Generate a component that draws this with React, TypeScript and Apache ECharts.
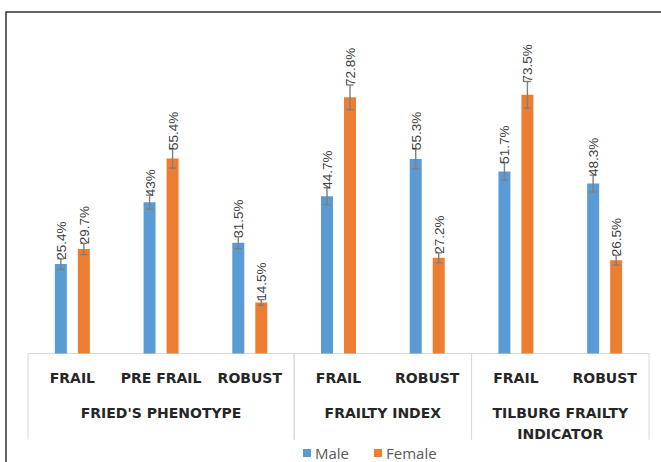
import React, { useEffect, useRef } from "react";
import * as echarts from "echarts";

const categories = ["FRAIL", "PRE FRAIL", "ROBUST", "FRAIL", "ROBUST", "FRAIL", "ROBUST"];
const maleValues = [25.4, 43, 31.5, 44.7, 55.3, 51.7, 48.3];
const femaleValues = [29.7, 55.4, 14.5, 72.8, 27.2, 73.5, 26.5];
const maleErrors = [1.5, 2.0, 1.7, 2.4, 2.8, 2.5, 2.4];
const femaleErrors = [1.6, 2.7, 0.8, 3.5, 1.4, 3.8, 1.4];
const groupNames = ["FRIED'S PHENOTYPE", "FRAILTY INDEX", "TILBURG FRAILTY\nINDICATOR"];
const groupSpans = [3, 2, 2];

const MALE_COLOR = "#5B9BD5";
const FEMALE_COLOR = "#ED7D31";
const BAR_WIDTH = 12;
const BAR_GAP = 11;

export default function App() {
  const ref = useRef<HTMLDivElement>(null);
  useEffect(() => {
    if (!ref.current) return;
    const chart = echarts.init(ref.current, null, { renderer: "svg" });

    const groupData: any[] = [];
    let start = 0;
    groupNames.forEach((name, i) => {
      groupData.push({ value: [start, start + groupSpans[i] - 1, 0], name });
      start += groupSpans[i];
    });

    const errSeries = (name: string, values: number[], errs: number[], sign: number) => ({
      type: "custom",
      name: name + "_err",
      clip: false,
      silent: true,
      z: 5,
      data: values.map((v, i) => [i, v, errs[i]]),
      encode: { x: 0, y: 1 },
      renderItem: (params: any, api: any) => {
        const idx = api.value(0);
        const v = api.value(1);
        const e = api.value(2);
        const top = api.coord([idx, v + e]);
        const bot = api.coord([idx, v - e]);
        const x = top[0] + (sign * (BAR_WIDTH + BAR_GAP)) / 2;
        const stroke = { stroke: "#7f7f7f", lineWidth: 1.4 };
        return {
          type: "group",
          children: [
            { type: "line", shape: { x1: x, y1: top[1], x2: x, y2: bot[1] }, style: stroke },
            { type: "line", shape: { x1: x - 3.5, y1: top[1], x2: x + 3.5, y2: top[1] }, style: stroke },
            { type: "line", shape: { x1: x - 3.5, y1: bot[1], x2: x + 3.5, y2: bot[1] }, style: stroke },
            {
              type: "text",
              x: x + 0.5,
              y: top[1] + 1,
              rotation: Math.PI / 2,
              style: {
                text: String(v) + "%",
                font: '13.5px "Liberation Sans"',
                fill: "#404040",
                align: "left",
                verticalAlign: "middle",
              },
            },
          ],
        };
      },
    });

    chart.setOption({
      animation: false,
      grid: { left: 28, right: 12, top: 72, bottom: 108.5 },
      graphic: [
        {
          type: "rect",
          shape: { x: 6, y: 12, width: 700, height: 500 },
          style: { fill: "none", stroke: "#333", lineWidth: 1.5 },
          silent: true,
        },
      ],
      legend: {
        data: ["Male", "Female"],
        left: 303,
        top: 445,
        padding: 0,
        icon: "rect",
        itemWidth: 8,
        itemHeight: 8,
        itemGap: 25,
        textStyle: {
          fontFamily: "Open Sans",
          fontSize: 15,
          lineHeight: 16,
          color: "#595959",
          padding: [0, 0, 0, -1],
        },
      },
      xAxis: {
        type: "category",
        data: categories,
        axisLine: { show: true, lineStyle: { color: "#d9d9d9", width: 1 } },
        axisTick: { show: false },
        axisLabel: {
          interval: 0,
          margin: 17,
          fontFamily: "DejaVu Sans",
          fontWeight: "bold",
          fontSize: 14,
          color: "#262626",
        },
      },
      yAxis: { type: "value", min: 0, max: 80, show: false },
      series: [
        {
          type: "bar",
          name: "Male",
          data: maleValues,
          barWidth: BAR_WIDTH,
          barGap: (BAR_GAP / BAR_WIDTH) * 100 + "%",
          itemStyle: { color: MALE_COLOR },
        },
        {
          type: "bar",
          name: "Female",
          data: femaleValues,
          barWidth: BAR_WIDTH,
          barGap: (BAR_GAP / BAR_WIDTH) * 100 + "%",
          itemStyle: { color: FEMALE_COLOR },
        },
        errSeries("Male", maleValues, maleErrors, -1),
        errSeries("Female", femaleValues, femaleErrors, 1),
        {
          type: "custom",
          name: "groups",
          clip: false,
          silent: true,
          data: groupData,
          encode: { x: [0, 1], y: 2 },
          renderItem: (params: any, api: any) => {
            const s = api.value(0);
            const e = api.value(1);
            const bw = api.size([1, 0])[0];
            const a = api.coord([s, 0]);
            const b = api.coord([e, 0]);
            const left = a[0] - bw / 2;
            const right = b[0] + bw / 2;
            const y0 = a[1];
            const name = groupData[params.dataIndex].name;
            const ls = { stroke: "#d9d9d9", lineWidth: 1 };
            return {
              type: "group",
              children: [
                { type: "line", shape: { x1: left, y1: y0, x2: left, y2: y0 + 86 }, style: ls },
                { type: "line", shape: { x1: right, y1: y0, x2: right, y2: y0 + 86 }, style: ls },
                {
                  type: "text",
                  x: (left + right) / 2,
                  y: y0 + 49,
                  style: {
                    text: name,
                    font: 'bold 14px "DejaVu Sans"',
                    fill: "#262626",
                    align: "center",
                    verticalAlign: "top",
                    lineHeight: 21,
                  },
                },
              ],
            };
          },
        },
      ],
    });
    return () => chart.dispose();
  }, []);
  return (
    <div
      ref={ref}
      style={{ position: "absolute", left: 0, top: 0, width: 661, height: 462, background: "#fff" }}
    />
  );
}
